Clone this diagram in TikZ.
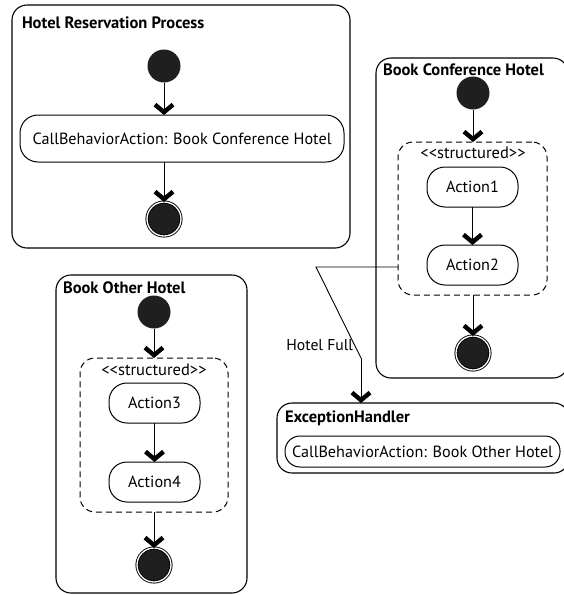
\documentclass[tikz,border=0pt]{standalone}
\usepackage{fontspec}
\setmainfont{PT Sans}
\usetikzlibrary{arrows.meta,positioning}
\begin{document}
\begin{tikzpicture}[x=1pt,y=-1pt,
  every node/.style={inner sep=0pt, outer sep=0pt},
  frame/.style={draw, rounded corners=15pt, line width=1.1pt, anchor=north west},
  frametitle/.style={anchor=west, font=\bfseries\fontsize{16.5}{18}\selectfont},
  actbox/.style={draw, rounded corners=18pt, line width=1pt, font=\fontsize{16.2}{18}\selectfont},
  structbox/.style={draw, dashed, dash pattern=on 6pt off 4pt, rounded corners=15pt, line width=1pt, anchor=north west},
  stlabel/.style={font=\fontsize{16.5}{18}\selectfont},
  initnode/.style={circle, fill=black!88, minimum size=33pt},
  finalnode/.style={circle, draw, line width=0.9pt, fill=black!88, double=white, double distance=1.3pt, minimum size=34pt},
  flow/.style={line width=0.9pt, -{Straight Barb[length=7.5pt,width=18pt,line width=4.4pt]}},
  plain/.style={line width=0.9pt}
]
\useasboundingbox (0,0) rectangle (563,595);

% Hotel Reservation Process
\node[frame, minimum width=338pt, minimum height=243pt] (fr1) at (12,5) {};
\node[frametitle] (t1) at (22,23) {Hotel Reservation Process};
\node[initnode] (i1) at (164,66) {};
\node[actbox, minimum width=324pt, minimum height=47pt] (a0) at (182,138.5) {CallBehaviorAction: Book Conference Hotel};
\node[finalnode] (f1) at (164,219) {};
\draw[flow] (i1) -- (i1 |- a0.north);
\draw[flow] (i1 |- a0.south) -- (f1);

% Book Conference Hotel
\node[frame, minimum width=192pt, minimum height=320pt] (fr2) at (376,58) {};
\node[frametitle] (t2) at (383,70) {Book Conference Hotel};
\node[initnode] (i2) at (473,93) {};
\node[structbox, minimum width=149pt, minimum height=153pt] (s2) at (398,142) {};
\node[stlabel] (l2) at (473,153) {{<}{<}structured{>}{>}};
\node[actbox, minimum width=91pt, minimum height=40pt] (act1) at (472.5,187) {Action1};
\node[actbox, minimum width=91pt, minimum height=40pt] (act2) at (472.5,265) {Action2};
\node[finalnode] (f2) at (473,353) {};
\draw[flow] (i2) -- (i2 |- s2.north);
\draw[flow] (act1) -- (act2);
\draw[flow] (i2 |- s2.south) -- (f2);

% Exception handler
\node[frame, minimum width=292pt, minimum height=70pt] (fr4) at (277,403) {};
\node[frametitle] (t4) at (285,418) {ExceptionHandler};
\node[actbox, rounded corners=15pt, minimum width=275pt, minimum height=31pt] (a4) at (422.5,451.5) {CallBehaviorAction: Book Other Hotel};
\coordinate (e0) at (s2.west |- 0,267);
\coordinate (e1) at (316,267);
\coordinate (e2) at (361,358);
\draw[plain] (e0) -- (e1) -- (e2);
\draw[flow] (e2) -- (e2 |- fr4.north);
\node[anchor=east, font=\fontsize{15.7}{17}\selectfont] (hf) at (353,345) {Hotel Full};

% Book Other Hotel
\node[frame, minimum width=191pt, minimum height=318pt] (fr3) at (56,275) {};
\node[frametitle] (t3) at (63,288) {Book Other Hotel};
\node[initnode] (i3) at (154,312) {};
\node[structbox, minimum width=148pt, minimum height=154pt] (s3) at (80,358) {};
\node[stlabel] (l3) at (154,370) {{<}{<}structured{>}{>}};
\node[actbox, minimum width=91pt, minimum height=40pt] (act3) at (154.5,403) {Action3};
\node[actbox, minimum width=91pt, minimum height=40pt] (act4) at (154.5,482) {Action4};
\node[finalnode] (f3) at (154,565) {};
\draw[flow] (i3) -- (i3 |- s3.north);
\draw[flow] (act3) -- (act4);
\draw[flow] (i3 |- s3.south) -- (f3);
\end{tikzpicture}
\end{document}
